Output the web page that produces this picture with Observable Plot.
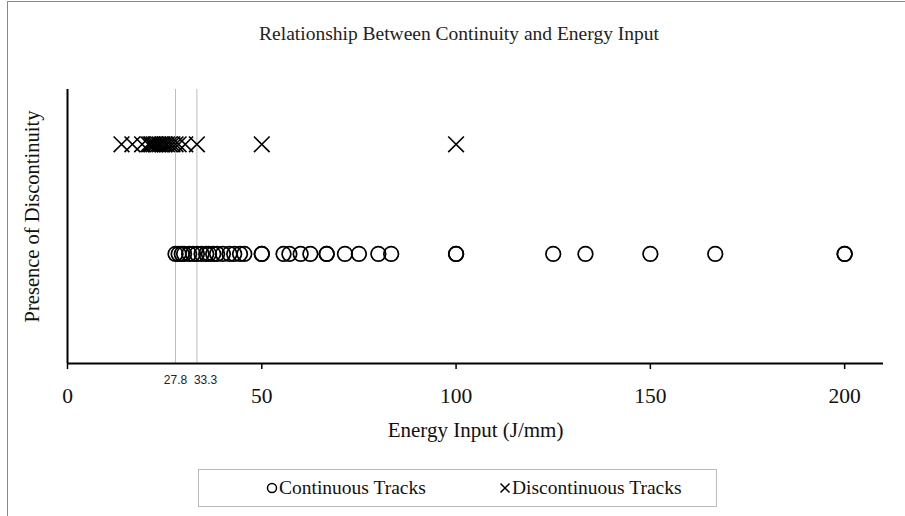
<!DOCTYPE html>
<html>
<head>
<meta charset="utf-8">
<script src="https://cdn.jsdelivr.net/npm/d3@7"></script>
<script src="https://cdn.jsdelivr.net/npm/@observablehq/plot@0.6"></script>
<style>
  html, body { margin: 0; padding: 0; background: #fff; }
  #frame { position: relative; width: 905px; height: 516px; overflow: hidden; font-family: "Liberation Serif", "Times New Roman", serif; }
  #border { position: absolute; left: 7px; top: 1px; width: 1000px; height: 1000px; border-left: 1px solid #888; border-top: 1px solid #888; }
  #title { position: absolute; left: 0; width: 918px; top: 23px; text-align: center; font-size: 19.5px; color: #222; }
  #chart { position: absolute; left: 0; top: 0; }
  #legend { position: absolute; left: 198px; top: 469px; width: 519px; height: 38px; border: 1px solid #bbb; box-sizing: border-box; font-size: 19.5px; color: #111; }
  .item { position: absolute; top: 7px; display: flex; align-items: center; white-space: nowrap; }
  .item svg { margin-right: 1px; }
</style>
</head>
<body>
<div id="frame">
  <div id="border"></div>
  <div id="chart"></div>
  <div id="title">Relationship Between Continuity and Energy Input</div>
  <div id="legend">
    <div class="item" style="left:67px"><svg width="12" height="12"><circle cx="6" cy="6" r="4.5" fill="none" stroke="#000" stroke-width="1.5"/></svg>Continuous Tracks</div>
    <div class="item" style="left:300px"><svg width="12" height="12"><path d="M1.5,1.5L10.5,10.5M10.5,1.5L1.5,10.5" stroke="#000" stroke-width="1.5"/></svg>Discontinuous Tracks</div>
  </div>
</div>
<script>
// Energy input (J/mm) of each track, split by whether a discontinuity appeared
const continuousEnergy = [27.8, 28.6, 29.4, 30, 31.3, 32.3, 33.3, 34.5, 35.7, 36.4, 37.5, 38.5, 40, 41.7, 42.9, 44.4, 45.5, 50, 50,
  55.6, 57.1, 60, 62.5, 66.7, 66.7, 71.4, 75, 80, 83.3, 100, 100, 125, 133.3, 150, 166.7, 200, 200];
const discontinuousEnergy = [13.9, 16.7, 19.2, 20.8, 21.3, 21.7, 22.2, 22.7, 23.3, 23.8, 24.4, 25, 25.6, 26.3, 27, 27.8, 28.6, 30.3, 33.3, 50, 100];

// Presence-of-discontinuity level for each group
const continuousLevel = 1;
const discontinuousLevel = 2;

// Threshold energies marked with reference lines
const thresholds = [27.8, 33.3];
const thresholdLabels = ["27.8", "33.3"];

// Axis ticks
const xTicks = [0, 50, 100, 150, 200];

const contData = continuousEnergy.map(e => ({energy: e, level: continuousLevel}));
const discData = discontinuousEnergy.map(e => ({energy: e, level: discontinuousLevel}));
const thrData = thresholds.map((t, i) => ({energy: t, label: thresholdLabels[i]}));

const serif = "Liberation Serif, Times New Roman, serif";
const sans = "Liberation Sans, Arial, sans-serif";

const chart = Plot.plot({
  width: 905,
  height: 450,
  marginLeft: 67,
  marginRight: 22,
  marginTop: 89,
  marginBottom: 87,
  style: {background: "transparent", overflow: "visible"},
  x: {domain: [0, 210]},
  y: {domain: [0, 2.5], axis: null},
  marks: [
    Plot.ruleX(thrData, {x: "energy", y1: 0, y2: 2.5, stroke: "#bdbdbd", strokeWidth: 1}),
    // threshold labels just under the axis
    Plot.text(thrData.slice(0, 1), {x: "energy", y: 0, text: "label", dy: 17, textAnchor: "middle",
      lineAnchor: "middle", fontFamily: sans, fontSize: 12, fill: "#222"}),
    Plot.text(thrData.slice(1), {x: "energy", y: 0, text: "label", dy: 17, dx: -3, textAnchor: "start",
      lineAnchor: "middle", fontFamily: sans, fontSize: 12, fill: "#222"}),
    Plot.ruleY([0], {x1: 0, x2: 210, stroke: "#000", strokeWidth: 2}),
    Plot.ruleX([0], {y1: 0, y2: 2.5, stroke: "#000", strokeWidth: 2}),
    Plot.axisX(xTicks, {tickSize: 6, tickPadding: 18, fontSize: 21.5, fontFamily: serif,
      fill: "#111", stroke: "#000", strokeWidth: 1.5, label: null}),
    Plot.text(["Energy Input (J/mm)"], {frameAnchor: "bottom", lineAnchor: "middle", dy: 67, fontSize: 21,
      fontFamily: serif, fill: "#111"}),
    Plot.text(["Presence of Discontinuity"], {frameAnchor: "left", textAnchor: "middle", lineAnchor: "middle",
      rotate: -90, dx: -35, dy: -10, fontSize: 20.5, fontFamily: serif, fill: "#111"}),
    Plot.dot(contData, {x: "energy", y: "level", symbol: "circle", r: 7.3, stroke: "#000", strokeWidth: 1.7, fill: "none"}),
    Plot.dot(discData, {x: "energy", y: "level", symbol: "times", r: 7.2, stroke: "#000", strokeWidth: 1.6})
  ]
});
document.getElementById("chart").appendChild(chart);
</script>
</body>
</html>
